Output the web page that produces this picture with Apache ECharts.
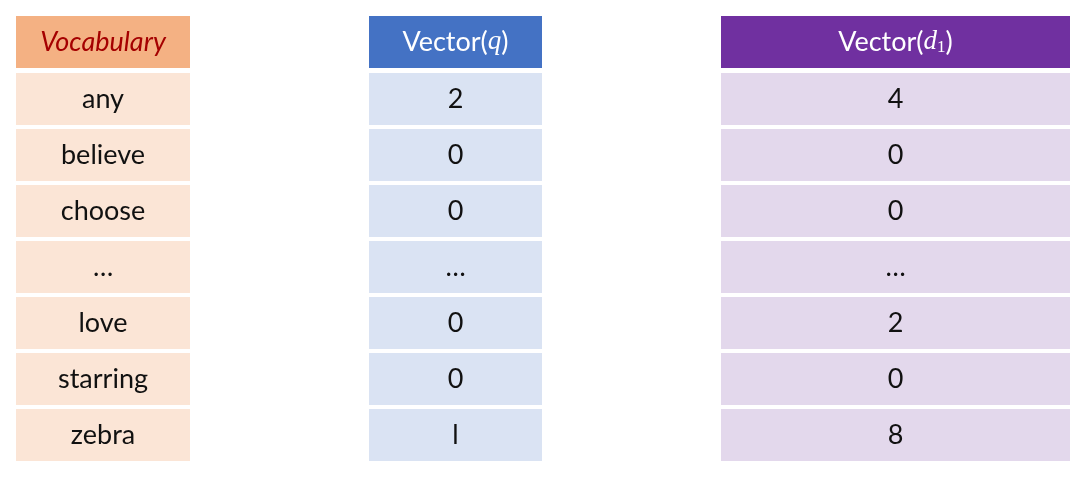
<!DOCTYPE html>
<html>
<head>
<meta charset="utf-8">
<script src="https://cdn.jsdelivr.net/npm/echarts@6/dist/echarts.min.js"></script>
<style>html,body{margin:0;padding:0;background:#fff}#main{width:1082px;height:478px}</style>
</head>
<body>
<div id="main"></div>
<script>
// table contents
var vocabulary = ['any', 'believe', 'choose', '…', 'love', 'starring', 'zebra'];
var vectorQ = ['2', '0', '0', '…', '0', '0', 'l'];
var vectorD1 = ['4', '0', '0', '…', '2', '0', '8'];

// layout (pixels)
var colLeft = [16, 369, 721];
var colWidth = [174, 173, 349];
var headTop = 16, headH = 52, rowTop = 73, rowStep = 56, rowH = 52;
var headColors = ['#F4B183', '#4472C4', '#7030A0'];
var bodyColors = ['#FBE5D6', '#DAE3F3', '#E3D8EC'];
var font = 'Lato, "Open Sans", sans-serif';

var chart = echarts.init(document.getElementById('main'));

var cells = [];
[vocabulary, vectorQ, vectorD1].forEach(function (col, c) {
  cells.push([c, -1]);
  col.forEach(function (v, r) { cells.push([c, r, v]); });
});

function headLabel(c) {
  if (c === 0) return { text: 'Vocabulary', fill: '#A50000', fontStyle: 'italic' };
  if (c === 1) return { text: 'Vector({i|q})', fill: '#fff' };
  return { text: 'Vector({i|d}{s|1})', fill: '#fff' };
}

chart.setOption({
  animation: false,
  grid: { left: 0, right: 0, top: 0, bottom: 0 },
  xAxis: { type: 'value', min: 0, max: 1082, show: false },
  yAxis: { type: 'value', min: 0, max: 478, inverse: true, show: false },
  series: [{
    type: 'custom',
    data: cells,
    renderItem: function (params, api) {
      var c = api.value(0), r = api.value(1);
      var top = r < 0 ? headTop : rowTop + r * rowStep;
      var h = r < 0 ? headH : rowH;
      var p0 = api.coord([colLeft[c], top]);
      var p1 = api.coord([colLeft[c] + colWidth[c], top + h]);
      var lab = r < 0 ? headLabel(c) : { text: cells[params.dataIndex][2], fill: '#111' };
      return {
        type: 'rect',
        shape: { x: p0[0], y: p0[1], width: p1[0] - p0[0], height: p1[1] - p0[1] },
        style: { fill: r < 0 ? headColors[c] : bodyColors[c] },
        textContent: {
          style: {
            text: lab.text, fill: lab.fill, fontSize: 27, fontFamily: font,
            fontStyle: lab.fontStyle || 'normal',
            rich: {
              i: { fontSize: 27, fontStyle: 'italic', fontFamily: 'serif', fill: lab.fill },
              s: { fontSize: 17, fill: lab.fill, padding: [12, 0, 0, 0], fontFamily: 'serif' }
            }
          }
        },
        textConfig: { position: 'inside' }
      };
    }
  }]
});
window.addEventListener('resize', function () { chart.resize(); });
</script>
</body>
</html>
